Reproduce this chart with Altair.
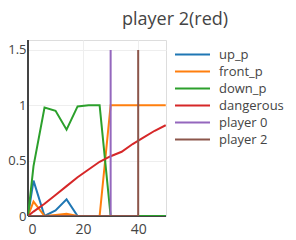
import altair as alt
import pandas as pd

series_names = ["up_p", "front_p", "down_p", "dangerous", "player 0", "player 2"]
colors = ["#1f77b4", "#ff7f0e", "#2ca02c", "#d62728", "#9467bd", "#8c564b"]

t = [0, 2, 6, 10, 14, 18, 22, 26, 30, 34, 38, 42, 46, 50]
up_p = [0, 0.32, 0, 0.05, 0.15, 0, 0, 0, 0, 0, 0, 0, 0, 0]
front_p = [0, 0.13, 0, 0.01, 0.02, 0, 0, 0, 1, 1, 1, 1, 1, 1]
down_p = [0, 0.45, 0.98, 0.95, 0.78, 0.99, 1.0, 1.0, 0, 0, 0, 0, 0, 0]
dangerous = [0, 0.04, 0.11, 0.19, 0.27, 0.35, 0.42, 0.49, 0.54, 0.58, 0.65, 0.71, 0.77, 0.82]
p0_x = [0, 30, 30]
p0_y = [0, 0, 1.5]
p2_x = [0, 40, 40]
p2_y = [0, 0, 1.5]

x_ticks = [0, 20, 40]
y_ticks = [0, 0.5, 1, 1.5]

rows = []
for name, xs, ys in [
    ("up_p", t, up_p),
    ("front_p", t, front_p),
    ("down_p", t, down_p),
    ("dangerous", t, dangerous),
    ("player 0", p0_x, p0_y),
    ("player 2", p2_x, p2_y),
]:
    for i, (xv, yv) in enumerate(zip(xs, ys)):
        rows.append({"series": name, "x": xv, "y": yv, "i": i})
df = pd.DataFrame(rows)

xscale = alt.Scale(domain=[0, 50.1], nice=False, zero=False)
yscale = alt.Scale(domain=[0, 1.59], nice=False, zero=False)
cscale = alt.Scale(domain=series_names, range=colors)

FONT = "Open Sans"
TXT = "#444444"

base = alt.Chart(df)

layers = []
zero_df = pd.DataFrame({"x": [0], "y": [0]})
layers.append(
    alt.Chart(zero_df).mark_rule(color=TXT, strokeWidth=2).encode(
        x=alt.X("x:Q", scale=xscale),
    )
)
layers.append(
    alt.Chart(zero_df).mark_rule(color=TXT, strokeWidth=2).encode(
        y=alt.Y("y:Q", scale=yscale),
    )
)

for k, name in enumerate(series_names):
    enc = dict(
        x=alt.X(
            "x:Q",
            scale=xscale,
            axis=alt.Axis(
                values=x_ticks, title=None, grid=True, gridColor="#eeeeee",
                domain=False, ticks=False, labelFont=FONT, labelColor=TXT,
                labelFontSize=14, labelPadding=6,
            ),
        ),
        y=alt.Y(
            "y:Q",
            scale=yscale,
            axis=alt.Axis(
                values=y_ticks, title=None, grid=True, gridColor="#eeeeee",
                domain=False, ticks=False, labelFont=FONT, labelColor=TXT,
                labelFontSize=13, labelPadding=2,
                labelExpr="datum.value == 0 ? '0' : format(datum.value, '.1~f')",
            ),
        ),
        color=alt.Color(
            "series:N",
            scale=cscale,
            legend=alt.Legend(
                title=None, orient="none", legendX=158, legendY=8,
                symbolType="M-3.5,0H3.5", symbolSize=100, symbolStrokeWidth=2,
                labelFont=FONT, labelColor=TXT, labelFontSize=13,
                rowPadding=3, labelOffset=20, symbolOffset=0,
                labelLimit=200,
            ) if k == 0 else None,
        ),
        order="i:Q",
    )
    layers.append(
        base.transform_filter(alt.datum.series == name)
        .mark_line(strokeWidth=2, clip=True)
        .encode(**enc)
    )

chart = alt.layer(*layers).properties(
    width=138,
    height=176,
    padding={"left": 20, "top": 32, "right": 122, "bottom": 24},
    autosize=alt.AutoSizeParams(type="none"),
    title=alt.Title(
        "player 2(red)", font=FONT, fontSize=18, fontWeight="normal",
        color=TXT, anchor="start", frame="group", dx=94, offset=10,
    ),
).configure_view(stroke=None).configure(background="white")

chart.save("out.html", embed_options={"renderer": "svg", "actions": False})
